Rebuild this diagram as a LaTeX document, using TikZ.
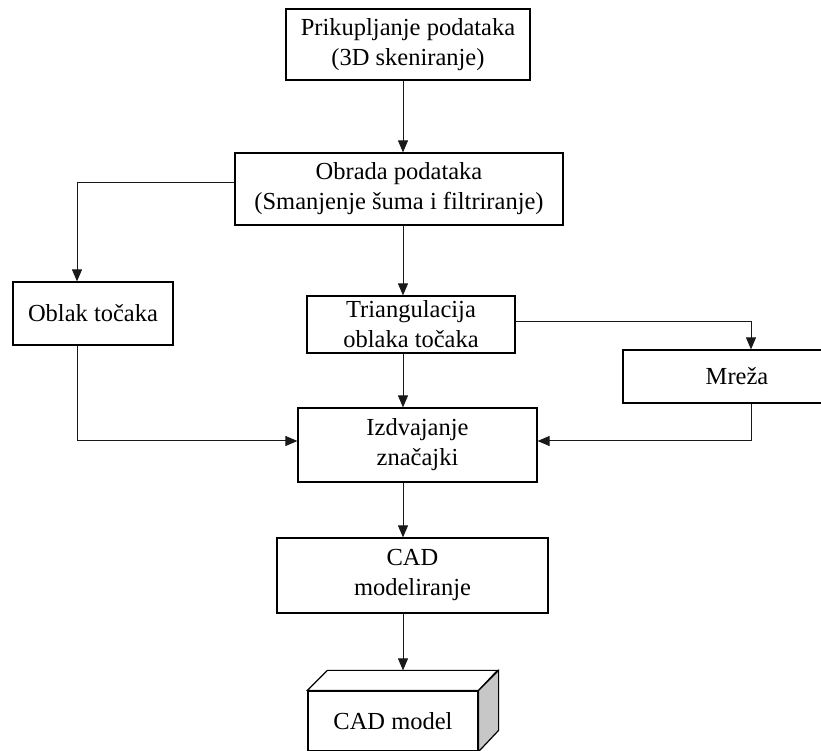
\documentclass[tikz,border=0pt]{standalone}
\usepackage{fontspec}
\setmainfont{Liberation Serif}
\usepackage{tikz}
\usetikzlibrary{arrows.meta}

\begin{document}
\begin{tikzpicture}[x=1pt,y=1pt,
        box/.style = {draw=black, line width=1.2pt, align=center, inner sep=0pt,
            font=\fontsize{24.5}{30}\selectfont},
        conn/.style = {draw=black!90, line width=1pt},
        arr/.style = {conn, -{Triangle[length=12pt,width=10pt]}},
    ]
    \useasboundingbox (0,0) rectangle (821,751);
    \coordinate (spine) at (403,0);
    \coordinate (leftx) at (77,0);
    \coordinate (rightx) at (751,0);
    % Prikupljanje
    \node[box, minimum width=244, minimum height=71] (pri) at (408,706.5)
        {Prikupljanje podataka\\(3D skeniranje)};
    % Obrada
    \node[box, minimum width=328, minimum height=72] (obr) at (399,562)
        {Obrada podataka\\(Smanjenje šuma i filtriranje)};
    % Oblak
    \node[box, minimum width=160, minimum height=63] (obl) at (93,437.5)
        {Oblak točaka};
    % Triangulacija
    \node[box, minimum width=208, minimum height=57] (tri) at (411,426.5)
        {Triangulacija\\oblaka točaka};
    % Mreza
    \node[box, minimum width=228, minimum height=53] (mre) at (737,374.5)
        {Mreža};
    % Izdvajanje
    \node[box, minimum width=239, minimum height=74] (izd) at (417.5,306)
        {Izdvajanje\\značajki};
    % CAD modeliranje
    \node[box, minimum width=271, minimum height=75] (cadm) at (412.5,175.5)
        {CAD\\modeliranje};
    % CAD model (kutija)
    \node[box, minimum width=170, minimum height=60] (mod) at (393,30)
        {CAD model};
    \draw[line width=1.2pt, fill=white] (mod.north west) -- ++(20,20) -- ++(170,0)
        -- (mod.north east) -- cycle;
    \draw[line width=1.2pt, fill=black!22] (mod.north east) -- ++(20,20) -- ++(0,-60)
        -- (mod.south east) -- cycle;
    \coordinate (modtop) at ([yshift=20]mod.north);
    % veze
    \draw[arr] (pri.south -| spine) -- (obr.north -| spine);
    \draw[arr] (obr.west |- 0,568) -| (obl.north -| leftx);
    \draw[arr] (obr.south -| spine) -- (tri.north -| spine);
    \draw[arr] (tri.east |- 0,429) -| (mre.north -| rightx);
    \draw[arr] (tri.south -| spine) -- (izd.north -| spine);
    \draw[arr] (obl.south -| leftx) |- (izd.west |- 0,310);
    \draw[arr] (mre.south -| rightx) |- (izd.east |- 0,310);
    \draw[arr] (izd.south -| spine) -- (cadm.north -| spine);
    \draw[arr] (cadm.south -| spine) -- (modtop -| spine);
\end{tikzpicture}
\end{document}
